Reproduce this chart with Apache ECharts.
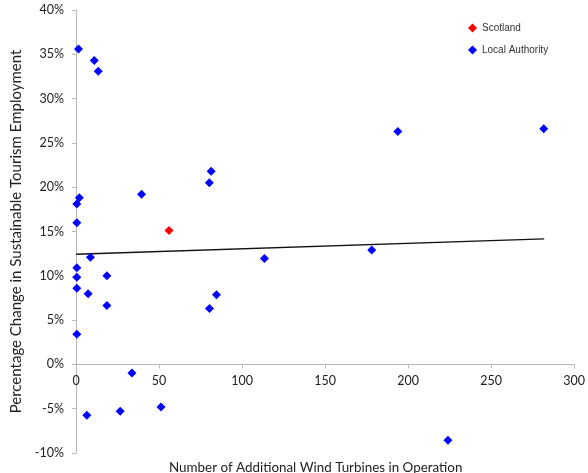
<!DOCTYPE html>
<html><head><meta charset="utf-8">
<script src="https://cdn.jsdelivr.net/npm/echarts@6/dist/echarts.min.js"></script>
<style>html,body{margin:0;padding:0;background:#fff}#c{width:588px;height:473px}</style>
</head><body><div id="c"></div>
<script>
var scotlandX = [56];
var scotlandY = [15.1];
var laX = [1.5, 11, 13.4, 2, 0.5, 0.5, 39.5, 8.7, 0.5, 0.5, 18.6, 0.5, 7.3, 18.6, 0.5, 33.7, 6.5, 26.6, 51.2, 80.4, 84.6, 113.5, 178.1, 224, 81.4, 80.3, 193.8, 281.7];
var laY = [35.6, 34.3, 33.1, 18.8, 18.1, 16.0, 19.2, 12.1, 10.9, 9.85, 10.0, 8.6, 7.97, 6.65, 3.4, -0.98, -5.75, -5.3, -4.8, 6.3, 7.86, 11.95, 12.9, -8.57, 21.8, 20.5, 26.3, 26.6];
var trendX = [0, 282];
var trendY = [12.43, 14.17];
var xTicks = [0, 50, 100, 150, 200, 250, 300];
var yTicks = [-10, -5, 0, 5, 10, 15, 20, 25, 30, 35, 40];

function pairs(xs, ys){ return xs.map(function(x,i){ return [x, ys[i]]; }); }

var gridTop = 10, gridBottom = 20, H = 473;
var plotH = H - gridTop - gridBottom;
var yMin = yTicks[0], yMax = yTicks[yTicks.length-1];
var zeroOffset = -plotH * (0 - yMin) / (yMax - yMin);

var chart = echarts.init(document.getElementById('c'));
var font = 'Lato, "Open Sans", sans-serif';
chart.setOption({
  animation: false,
  backgroundColor: '#fff',
  title: {
    text: 'Number of Additional Wind Turbines in Operation',
    left: 164, top: 456,
    textStyle: {fontFamily: font, fontSize: 13.4, fontWeight: 'normal', color: '#222'}
  },
  legend: {
    orient: 'vertical', left: 463, top: 18, itemGap: 12,
    itemWidth: 9, itemHeight: 9,
    textStyle: {fontFamily: '"Liberation Sans", Arial, sans-serif', fontSize: 10, color: '#333'},
    data: ['Scotland', 'Local Authority']
  },
  grid: {left: 76, right: 9.5, top: gridTop, bottom: gridBottom},
  xAxis: {
    type: 'value', min: xTicks[0], max: xTicks[xTicks.length-1], interval: 50,
    offset: zeroOffset,
    axisLine: {onZero: false, lineStyle: {color: '#b8b8b8', width: 1}},
    axisTick: {show: true, length: 4, lineStyle: {color: '#b8b8b8'}},
    axisLabel: {fontFamily: font, fontSize: 12.5, color: '#222', margin: 10},
    splitLine: {show: false}
  },
  yAxis: {
    type: 'value', min: yMin, max: yMax, interval: 5,
    name: 'Percentage Change in Sustainable Tourism Employment',
    nameLocation: 'middle', nameGap: 41,
    nameTextStyle: {fontFamily: font, fontSize: 15, color: '#222'},
    axisLine: {show: true, onZero: false, lineStyle: {color: '#b8b8b8', width: 1}},
    axisTick: {show: true, length: 4, lineStyle: {color: '#b8b8b8'}},
    axisLabel: {fontFamily: font, fontSize: 12.5, color: '#222', margin: 12, formatter: '{value}%'},
    splitLine: {show: false}
  },
  series: [
    {name: 'Scotland', type: 'scatter', symbol: 'diamond', symbolSize: 9,
     itemStyle: {color: '#ff0000', opacity: 1}, data: pairs(scotlandX, scotlandY), z: 4},
    {name: 'Local Authority', type: 'scatter', symbol: 'diamond', symbolSize: 9,
     itemStyle: {color: '#0000ff', opacity: 1}, data: pairs(laX, laY), z: 4},
    {name: 'Trend', type: 'line', symbol: 'none', silent: true,
     lineStyle: {color: '#111', width: 1.3}, data: pairs(trendX, trendY), z: 3}
  ]
});
</script></body></html>
